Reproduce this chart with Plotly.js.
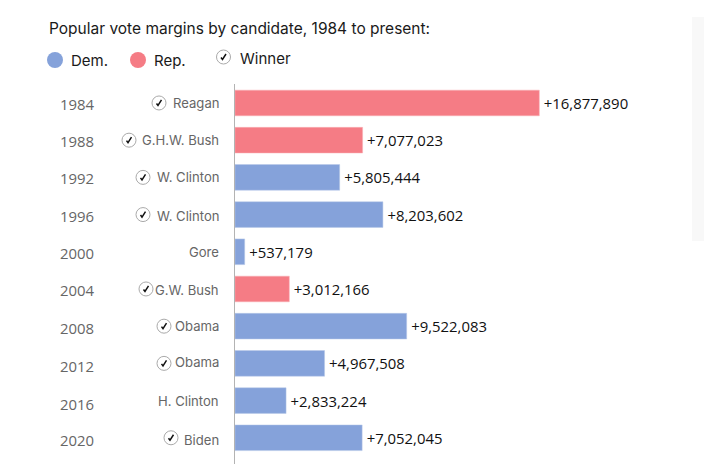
<!DOCTYPE html>
<html><head><meta charset="utf-8">
<script src="https://cdn.plot.ly/plotly-3.0.1.min.js"></script>
<style>html,body{margin:0;padding:0;background:#fff;overflow:hidden}#c{width:704px;height:466px}</style>
</head><body><div id="c"></div>
<script>
var years = ['1984','1988','1992','1996','2000','2004','2008','2012','2016','2020'];
var candidates = ['Reagan','G.H.W. Bush','W. Clinton','W. Clinton','Gore','G.W. Bush','Obama','Obama','H. Clinton','Biden'];
var parties = ['Rep.','Rep.','Dem.','Dem.','Dem.','Rep.','Dem.','Dem.','Dem.','Dem.'];
var margins = [16877890,7077023,5805444,8203602,537179,3012166,9522083,4967508,2833224,7052045];
var winners = [1,1,1,1,0,1,1,1,0,1];
var title = 'Popular vote margins by candidate, 1984 to present:';

var W=704,H=466,L=235,T=84,B=2,PW=W-L,PH=H-T-B;
var FONT='Inter, sans-serif', NUMFONT='"Open Sans", sans-serif';
var BLUE='#85a2da',RED='#f57c85';
var yearShift=[-1,-1,-1,-1,-1,-1,-2,-3,-3,-2];
var nameShift=[0,0,0,-1,0,-1,0,1,0,-2];
var iconX=[159,129,143,143,0,146,164,164,0,171];
function px(x){return (x-L)/PW;}
function py(y){return 1-(y-T)/PH;}
function trace(p){
  return {type:'bar',orientation:'h',name:p,y:years,
    x:margins.map(function(v,i){return parties[i]===p?v:null;}),
    width:0.69,marker:{color:p==='Dem.'?BLUE:RED,line:{color:p==='Dem.'?'#b9c9e8':'#f9b0b6',width:0.5}},
    texttemplate:'\u200A%{x:+,}',textposition:'outside',cliponaxis:false,
    textfont:{family:NUMFONT,size:14.9,color:'#111'},showlegend:false,hoverinfo:'y+x'};
}
var ann=[],shapes=[];
function label(text,x,y,size,color,anchor){
  ann.push({xref:'paper',yref:'paper',x:px(x),y:py(y),text:text,showarrow:false,xanchor:anchor||'left',yanchor:'middle',
    font:{family:FONT,size:size,color:color}});
}
function icon(xref,x,yref,y,r){
  shapes.push({type:'circle',layer:'above',xref:xref,yref:yref,xsizemode:'pixel',ysizemode:'pixel',xanchor:x,yanchor:y,
    x0:-r,x1:r,y0:-r,y1:r,fillcolor:'#fff',line:{color:'#aaa',width:1}});
  shapes.push({type:'path',layer:'above',xref:xref,yref:yref,xsizemode:'pixel',ysizemode:'pixel',xanchor:x,yanchor:y,
    path:'M -2.5 -0.5 L -1 -2.5 L 2.5 3',line:{color:'#111',width:1.5}});
}
years.forEach(function(yr,i){
  ann.push({xref:'paper',yref:'y',x:px(58),y:i,yshift:yearShift[i],text:yr,showarrow:false,xanchor:'left',yanchor:'middle',
    font:{family:NUMFONT,size:14.9,color:'#666'}});
  ann.push({xref:'paper',yref:'y',x:px(221),y:i,yshift:nameShift[i],text:candidates[i],showarrow:false,xanchor:'right',yanchor:'middle',
    font:{family:FONT,size:13.1,color:'#666'}});
  if(winners[i]) icon('paper',px(iconX[i]),'y',i,7);
});
label(title,47,29,15.5,'#1a1a1a');
label('Dem.',69,60,15,'#1a1a1a');
label('Rep.',152,60,15,'#1a1a1a');
label('Winner',238,59,15,'#1a1a1a');
[[55,BLUE],[138,RED]].forEach(function(c){
  shapes.push({type:'circle',xref:'paper',yref:'paper',xsizemode:'pixel',ysizemode:'pixel',xanchor:px(c[0]),yanchor:py(60),
    x0:-8,x1:8,y0:-8,y1:8,fillcolor:c[1],line:{width:0}});
});
icon('paper',px(223.5),'paper',py(57),7);
shapes.push({type:'rect',layer:'below',xref:'paper',yref:'paper',x0:px(692),x1:px(704),y0:py(241),y1:py(17),fillcolor:'#f8f8f8',line:{width:0}});

Plotly.newPlot('c',[trace('Dem.'),trace('Rep.')],{
  width:W,height:H,margin:{l:L,r:0,t:T,b:B,pad:0},paper_bgcolor:'#fff',plot_bgcolor:'rgba(0,0,0,0)',
  barmode:'overlay',showlegend:false,
  xaxis:{range:[0,26012000],visible:false,fixedrange:true},
  yaxis:{type:'category',categoryorder:'array',categoryarray:years,range:[9.705,-0.51],showticklabels:false,ticks:'',showgrid:false,zeroline:false,
    showline:true,linecolor:'#b3b3b3',linewidth:1,fixedrange:true},
  annotations:ann,shapes:shapes
},{displayModeBar:false,staticPlot:true});
</script></body></html>
